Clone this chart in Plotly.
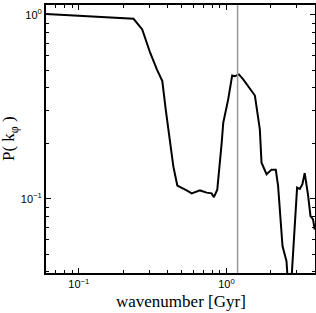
import math
import plotly.graph_objects as go

# Data
wavenumber = [0.060, 0.100, 0.163, 0.235, 0.269, 0.304, 0.338, 0.368, 0.388, 0.437,
              0.465, 0.498, 0.538, 0.582, 0.662, 0.735, 0.794, 0.823, 0.867, 0.929,
              0.952, 1.028, 1.094, 1.141, 1.215, 1.299, 1.480, 1.559, 1.684, 1.729,
              1.870, 2.020, 2.159, 2.239, 2.398, 2.552, 2.680, 3.010, 3.140, 3.270,
              3.390, 3.570, 3.710, 3.860, 3.960]
power = [1.01, 0.988, 0.975, 0.951, 0.832, 0.624, 0.505, 0.436, 0.306, 0.150,
         0.118, 0.115, 0.111, 0.107, 0.111, 0.108, 0.107, 0.102, 0.112, 0.202,
         0.259, 0.347, 0.468, 0.464, 0.474, 0.445, 0.385, 0.364, 0.238, 0.157,
         0.136, 0.144, 0.144, 0.117, 0.0553, 0.0458, 0.025, 0.115, 0.113, 0.120,
         0.138, 0.105, 0.0804, 0.0772, 0.068]
marker_k = 1.19

x_major = [0.1, 1]
x_major_text = ["10<sup>−1</sup>", "10<sup>0</sup>"]
y_major = [0.1, 1]
y_major_text = ["10<sup>−1</sup>", "10<sup>0</sup>"]
x_minor = [0.06, 0.07, 0.08, 0.09, 0.2, 0.3, 0.4, 0.5, 0.6, 0.7, 0.8, 0.9, 2, 3, 4]
y_minor = [0.04, 0.05, 0.06, 0.07, 0.08, 0.09, 0.2, 0.3, 0.4, 0.5, 0.6, 0.7, 0.8, 0.9]

x_range = [0.060, 3.98]
y_range = [0.0395, 1.13]

x_title = "wavenumber [Gyr]"
y_title = "P( k<sub>φ</sub> )"

fig = go.Figure()
fig.add_trace(go.Scatter(x=wavenumber, y=power, mode="lines",
                         line=dict(color="black", width=2), showlegend=False,
                         hoverinfo="skip"))
fig.add_shape(type="line", x0=marker_k, x1=marker_k, y0=0, y1=1,
              xref="x", yref="paper", line=dict(color="#999999", width=1.5))

axis_common = dict(type="log", showgrid=False, zeroline=False, showline=True,
                   linecolor="black", linewidth=2, mirror="ticks", automargin=False,
                   ticks="inside", ticklen=5, tickcolor="black", tickwidth=1,
                   tickfont=dict(family="Liberation Sans, Arial", size=11, color="black"))

fig.update_xaxes(**axis_common, range=[math.log10(v) for v in x_range],
                 tickvals=x_major, ticktext=x_major_text,
                 minor=dict(ticks="inside", ticklen=3, tickcolor="black", tickvals=x_minor))
fig.update_yaxes(**axis_common, range=[math.log10(v) for v in y_range],
                 tickvals=y_major, ticktext=y_major_text,
                 minor=dict(ticks="inside", ticklen=3, tickcolor="black", tickvals=y_minor))

title_font = dict(family="Liberation Serif, Times New Roman", size=17, color="black")
fig.add_annotation(text=x_title, xref="paper", yref="paper", x=0.5, y=0,
                   yshift=-28, xanchor="center", yanchor="middle",
                   showarrow=False, font=title_font)
fig.add_annotation(text=y_title, xref="paper", yref="paper", x=0, y=0.5,
                   xshift=-36, xanchor="center", yanchor="middle", textangle=-90,
                   showarrow=False, font=title_font)

fig.update_layout(width=316, height=313, margin=dict(l=46, r=1, t=5, b=40),
                  plot_bgcolor="white", paper_bgcolor="white", hovermode=False)

fig.write_html("out.html", config={"displayModeBar": False},
               post_script="document.body.style.margin='0';document.body.style.overflow='hidden';")
